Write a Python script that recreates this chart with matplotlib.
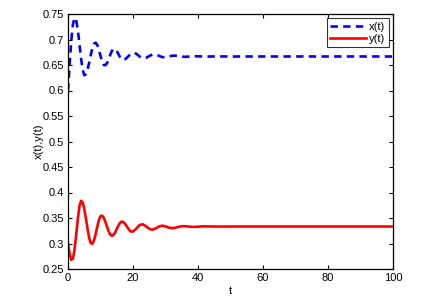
import matplotlib
matplotlib.use("Agg")
import matplotlib.pyplot as plt

# Data
t_x = [0, 0.5, 1.0, 1.5, 2.0, 2.5, 3.0, 3.5, 4.0, 4.5, 5.0, 5.5, 6.0, 6.5, 7.0, 7.5, 8.0, 8.5,
       9.0, 9.5, 10.0, 10.5, 11.0, 11.5, 12.0, 12.5, 13.0, 13.5, 14.0, 14.5, 15.0, 15.5, 16.0, 16.5,
       17.0, 17.5, 18.0, 18.5, 19.0, 19.5, 20.0, 21, 22, 23, 24, 25, 26, 27, 28, 29, 30, 31, 32, 33,
       34, 35, 36, 37, 38, 39, 40, 42, 45, 50, 60, 70, 80, 90, 100]
x_vals = [0.600, 0.652, 0.697, 0.729, 0.7426, 0.738, 0.720, 0.692, 0.664, 0.641, 0.630, 0.632,
          0.641, 0.654, 0.6695, 0.683, 0.6917, 0.6938, 0.6895, 0.680, 0.668, 0.657, 0.650, 0.6495,
          0.6535, 0.661, 0.670, 0.6775, 0.6816, 0.6813, 0.6776, 0.6716, 0.6655, 0.6612, 0.660, 0.6611,
          0.6635, 0.6667, 0.6699, 0.6725, 0.6739, 0.6722, 0.6668, 0.6631, 0.6641, 0.6676, 0.6706,
          0.6706, 0.668, 0.6654, 0.6652, 0.6666, 0.6681, 0.6684, 0.6676, 0.6665, 0.666, 0.6664,
          0.6669, 0.6672, 0.6670, 0.6665, 0.6668, 0.6667, 0.6667, 0.6667, 0.6667, 0.6667, 0.6667]

t_y = [0, 0.5, 1.0, 1.5, 2.0, 2.5, 3.0, 3.5, 4.0, 4.5, 5.0, 5.5, 6.0, 6.5, 7.0, 7.5, 8.0, 8.5,
       9.0, 9.5, 10.0, 10.5, 11.0, 11.5, 12.0, 12.5, 13.0, 13.5, 14.0, 14.5, 15.0, 15.5, 16.0, 16.5,
       17.0, 17.5, 18.0, 18.5, 19.0, 19.5, 20, 21, 22, 23, 24, 25, 26, 27, 28, 29, 30, 31, 32, 33,
       34, 35, 36, 37, 38, 39, 40, 41, 42, 44, 46, 50, 60, 70, 80, 90, 100]
y_vals = [0.300, 0.280, 0.268, 0.270, 0.2877, 0.316, 0.347, 0.3723, 0.3837, 0.3808, 0.3684, 0.3498,
          0.3292, 0.3114, 0.3009, 0.2996, 0.3061, 0.3183, 0.3328, 0.3458, 0.3537, 0.3546, 0.3505,
          0.3426, 0.333, 0.3239, 0.3174, 0.315, 0.3167, 0.3216, 0.3283, 0.3351, 0.3405, 0.3429,
          0.3422, 0.3391, 0.3345, 0.3295, 0.3254, 0.3232, 0.3234, 0.3289, 0.3361, 0.3377, 0.3339,
          0.3288, 0.3271, 0.3296, 0.3334, 0.335, 0.3336, 0.3312, 0.330, 0.3308, 0.3326, 0.3339,
          0.3338, 0.3333, 0.3327, 0.3326, 0.3330, 0.3334, 0.3336, 0.3334, 0.3332, 0.3333, 0.3333,
          0.3333, 0.3333, 0.3333, 0.3333]

x_ticks = [0, 20, 40, 60, 80, 100]
x_tick_labels = ["0", "20", "40", "60", "80", "100"]
y_ticks = [0.25, 0.3, 0.35, 0.4, 0.45, 0.5, 0.55, 0.6, 0.65, 0.7, 0.75]
y_tick_labels = ["0.25", "0.3", "0.35", "0.4", "0.45", "0.5", "0.55", "0.6", "0.65", "0.7", "0.75"]

plt.rcParams['font.family'] = ['Liberation Sans', 'DejaVu Sans']

fig = plt.figure(figsize=(4.21, 3.01), dpi=100)
ax = fig.add_axes([68 / 421, 1 - 269 / 301, (393 - 68) / 421, (269 - 14) / 301])

ax.plot(t_x, x_vals, color='#0000ff', linewidth=1.9, linestyle=(0, (2.8, 2.0)), label='x(t)')
ax.plot(t_y, y_vals, color='#ff0000', linewidth=1.9, label='y(t)')

ax.set_xlim(0, 100)
ax.set_ylim(0.25, 0.75)
ax.set_xticks(x_ticks)
ax.set_xticklabels(x_tick_labels)
ax.set_yticks(y_ticks)
ax.set_yticklabels(y_tick_labels)
ax.tick_params(direction='in', top=True, right=True, labelsize=8, length=3, width=0.8, pad=3)
for s in ax.spines.values():
    s.set_linewidth(0.9)

ax.set_xlabel('t', fontsize=8, labelpad=2)
ax.set_ylabel('x(t),y(t)', fontsize=8, labelpad=-1)

leg = ax.legend(loc='upper right', fontsize=8, fancybox=False, frameon=True,
                handlelength=3.2, handletextpad=0.3, borderpad=0.3, labelspacing=0.2,
                borderaxespad=0.4)
leg.get_frame().set_edgecolor('black')
leg.get_frame().set_linewidth(0.8)

fig.savefig('out.png', dpi=100)
